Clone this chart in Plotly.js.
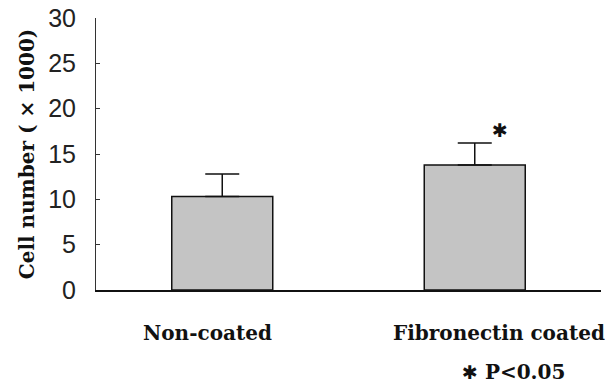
<!DOCTYPE html>
<html><head><meta charset="utf-8">
<script src="https://cdn.plot.ly/plotly-3.0.1.min.js"></script>
<style>body{margin:0;background:#fff}#c{width:614px;height:386px}</style>
</head><body><div id="c"></div>
<script>
const categories = ["Non-coated", "Fibronectin coated"];
const meanValues = [10.3, 13.8];
const sdValues = [2.5, 2.4];
const yTicks = [0, 5, 10, 15, 20, 25, 30];

const trace = {
  type: 'bar', x: [0, 1], y: meanValues, width: 0.4,
  marker: {color: '#c4c4c4', line: {color: '#111', width: 1.5}},
  error_y: {type: 'data', symmetric: false, array: sdValues, arrayminus: sdValues.map(() => 0),
            color: '#111', thickness: 1.5, width: 17},
  hoverinfo: 'none'
};
const serif = 'DejaVu Serif, Liberation Serif, serif';
const layout = {
  width: 614, height: 386,
  margin: {l: 96, r: 13, t: 18, b: 96},
  paper_bgcolor: '#fff', plot_bgcolor: '#fff',
  showlegend: false,
  xaxis: {range: [-0.5, 1.5], showticklabels: false, ticks: '', showgrid: false, zeroline: false,
          showline: true, linecolor: '#111', linewidth: 1.5, fixedrange: true},
  yaxis: {range: [0, 30], tickvals: yTicks, ticktext: yTicks.map(String), ticks: 'inside', ticklen: 4,
          tickcolor: '#333', showgrid: false, zeroline: false, showline: true, linecolor: '#333', linewidth: 1,
          ticklabelstandoff: 14,
          tickfont: {family: 'Liberation Sans Narrow, Arial Narrow, sans-serif', size: 25, color: '#222'},
          title: {text: 'Cell number ( × 1000)', font: {family: serif, size: 20, color: '#111', weight: 'bold'}, standoff: 8}},
  annotations: [
    {xref: 'paper', yref: 'paper', x: (207.5 - 96) / 505, y: -43 / 272, text: '<b>' + categories[0] + '</b>',
     showarrow: false, font: {family: serif, size: 20, color: '#111'}, xanchor: 'center', yanchor: 'middle'},
    {xref: 'paper', yref: 'paper', x: (499 - 96) / 505, y: -43 / 272, text: '<b>' + categories[1] + '</b>',
     showarrow: false, font: {family: serif, size: 20, color: '#111'}, xanchor: 'center', yanchor: 'middle'},
    {xref: 'paper', yref: 'paper', x: (513 - 96) / 505, y: -82 / 272,
     text: '<span style="font-family:DejaVu Sans;font-size:19px">✱</span><b> P&lt;0.05</b>',
     showarrow: false, font: {family: serif, size: 20, color: '#111'}, xanchor: 'center', yanchor: 'middle'},
    {xref: 'x', yref: 'y', x: 1.1, y: meanValues[1] + sdValues[1] + 1.5, text: '✱',
     showarrow: false, font: {family: 'DejaVu Sans, sans-serif', size: 19, color: '#111'}, xanchor: 'center', yanchor: 'middle'}
  ]
};
Plotly.newPlot('c', [trace], layout, {staticPlot: true});
</script></body></html>
